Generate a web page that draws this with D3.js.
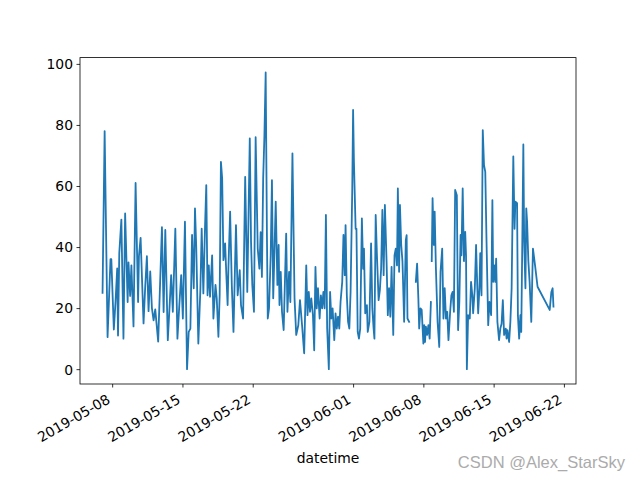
<!DOCTYPE html>
<html>
<head>
<meta charset="utf-8">
<script src="https://cdn.jsdelivr.net/npm/d3@7"></script>
<style>
  html, body { margin: 0; padding: 0; background: #fff; }
  svg { display: block; }
</style>
</head>
<body>
<svg id="chart" width="640" height="480"></svg>
<script>
// ---- data ----
const times = [
"2019-05-07 01","2019-05-07 06","2019-05-07 13","2019-05-07 20","2019-05-07 22",
"2019-05-08 04","2019-05-08 08","2019-05-08 12","2019-05-08 14","2019-05-08 17","2019-05-08 22",
"2019-05-09 03","2019-05-09 07","2019-05-09 13","2019-05-09 15","2019-05-09 19","2019-05-09 22",
"2019-05-10 03","2019-05-10 08","2019-05-10 14","2019-05-10 16","2019-05-10 20",
"2019-05-11 03","2019-05-11 07","2019-05-11 11","2019-05-11 15","2019-05-11 19","2019-05-11 23",
"2019-05-12 03","2019-05-12 07","2019-05-12 14","2019-05-12 23",
"2019-05-13 03","2019-05-13 07","2019-05-13 13","2019-05-13 17","2019-05-13 21",
"2019-05-14 01","2019-05-14 07","2019-05-14 12","2019-05-14 17","2019-05-14 21",
"2019-05-15 01","2019-05-15 06","2019-05-15 11","2019-05-15 15","2019-05-15 19","2019-05-15 23",
"2019-05-16 03","2019-05-16 06","2019-05-16 09","2019-05-16 14","2019-05-16 19","2019-05-16 22",
"2019-05-17 02","2019-05-17 06","2019-05-17 09","2019-05-17 12","2019-05-17 15","2019-05-17 18","2019-05-17 23",
"2019-05-18 02","2019-05-18 07","2019-05-18 10","2019-05-18 14","2019-05-18 17","2019-05-18 20","2019-05-18 23",
"2019-05-19 02","2019-05-19 06","2019-05-19 09","2019-05-19 12","2019-05-19 14","2019-05-19 18","2019-05-19 22",
"2019-05-20 02","2019-05-20 08","2019-05-20 12","2019-05-20 17","2019-05-20 20",
"2019-05-21 01","2019-05-21 06","2019-05-21 11","2019-05-21 14","2019-05-21 17","2019-05-21 20","2019-05-21 23",
"2019-05-22 03","2019-05-22 07","2019-05-22 12","2019-05-22 16","2019-05-22 19","2019-05-22 22",
"2019-05-23 01","2019-05-23 04","2019-05-23 07","2019-05-23 10","2019-05-23 12","2019-05-23 15","2019-05-23 19","2019-05-23 22",
"2019-05-24 01","2019-05-24 04","2019-05-24 07","2019-05-24 11","2019-05-24 14","2019-05-24 16","2019-05-24 19","2019-05-24 22",
"2019-05-25 02","2019-05-25 08","2019-05-25 11","2019-05-25 15","2019-05-25 18","2019-05-25 23",
"2019-05-26 04","2019-05-26 08","2019-05-26 13","2019-05-26 17","2019-05-26 22",
"2019-05-27 03","2019-05-27 08","2019-05-27 11","2019-05-27 14","2019-05-27 17","2019-05-27 20",
"2019-05-28 00","2019-05-28 03","2019-05-28 06","2019-05-28 09","2019-05-28 12","2019-05-28 16","2019-05-28 19","2019-05-28 22",
"2019-05-29 01","2019-05-29 04","2019-05-29 07","2019-05-29 10","2019-05-29 14","2019-05-29 17","2019-05-29 20","2019-05-29 23",
"2019-05-30 03","2019-05-30 06","2019-05-30 09","2019-05-30 12","2019-05-30 15","2019-05-30 18","2019-05-30 22",
"2019-05-31 01","2019-05-31 04","2019-05-31 06","2019-05-31 09","2019-05-31 12","2019-05-31 15","2019-05-31 18","2019-05-31 22",
"2019-06-01 00","2019-06-01 02","2019-06-01 06","2019-06-01 08","2019-06-01 11","2019-06-01 14","2019-06-01 17","2019-06-01 21",
"2019-06-02 00","2019-06-02 02","2019-06-02 05","2019-06-02 09","2019-06-02 11","2019-06-02 15","2019-06-02 19","2019-06-02 22",
"2019-06-03 01","2019-06-03 03","2019-06-03 06","2019-06-03 09","2019-06-03 13","2019-06-03 16","2019-06-03 19","2019-06-03 22",
"2019-06-04 01","2019-06-04 04","2019-06-04 08","2019-06-04 11","2019-06-04 14","2019-06-04 17","2019-06-04 20",
"2019-06-05 00","2019-06-05 03","2019-06-05 06","2019-06-05 09","2019-06-05 11","2019-06-05 14","2019-06-05 16","2019-06-05 19","2019-06-05 22","2019-06-05 23",
"2019-06-06 02","2019-06-06 06","2019-06-06 08","2019-06-06 10","2019-06-06 14","2019-06-06 15",
"2019-06-07 06","2019-06-07 09","2019-06-07 12","2019-06-07 14","2019-06-07 17","2019-06-07 20",
"2019-06-08 00","2019-06-08 02","2019-06-08 04","2019-06-08 06","2019-06-08 09","2019-06-08 12","2019-06-08 15","2019-06-08 18","2019-06-08 19","2019-06-08 20","2019-06-08 22",
"2019-06-09 01","2019-06-09 03","2019-06-09 06","2019-06-09 10","2019-06-09 14","2019-06-09 17","2019-06-09 21",
"2019-06-10 00","2019-06-10 03","2019-06-10 06","2019-06-10 09","2019-06-10 12","2019-06-10 16","2019-06-10 19","2019-06-10 22",
"2019-06-11 01","2019-06-11 04","2019-06-11 08","2019-06-11 11","2019-06-11 14","2019-06-11 17","2019-06-11 19","2019-06-11 22",
"2019-06-12 01","2019-06-12 04","2019-06-12 06","2019-06-12 08","2019-06-12 11","2019-06-12 15","2019-06-12 18","2019-06-12 21","2019-06-12 23",
"2019-06-13 03","2019-06-13 06","2019-06-13 09","2019-06-13 11","2019-06-13 14","2019-06-13 16","2019-06-13 19","2019-06-13 22",
"2019-06-14 01","2019-06-14 04","2019-06-14 07","2019-06-14 11","2019-06-14 14","2019-06-14 18","2019-06-14 21","2019-06-14 23",
"2019-06-15 02","2019-06-15 04","2019-06-15 06","2019-06-15 09","2019-06-15 13","2019-06-15 16","2019-06-15 19","2019-06-15 22",
"2019-06-16 01","2019-06-16 05","2019-06-16 07","2019-06-16 09","2019-06-16 13","2019-06-16 16","2019-06-16 19","2019-06-16 23",
"2019-06-17 02","2019-06-17 04","2019-06-17 08","2019-06-17 10","2019-06-17 13","2019-06-17 16","2019-06-17 18","2019-06-17 20","2019-06-17 23",
"2019-06-18 01","2019-06-18 04","2019-06-18 06","2019-06-18 08","2019-06-18 11","2019-06-18 14","2019-06-18 18","2019-06-18 22",
"2019-06-19 03","2019-06-19 09",
"2019-06-20 14","2019-06-20 18","2019-06-20 21","2019-06-20 23"
];
const values = [
25,78,10.5,36,36,
13,22,33,11,38,49,
10,51,22,35,24,34,
14,61,22,37,43,
15,27,37,19,32,20,
16,19.6,9,46.5,
18.7,45.6,9.5,19.9,30.8,
18.8,46,10,22,30.8,
16.6,48.3,0,12.2,13.3,44,
26.5,52.7,40,8.4,26.5,46,
24.8,46.6,60.3,24.2,34,23.7,37.3,
16.6,27.6,23.2,10.6,24.2,67.9,62.4,
35.7,41.2,30.8,21,33.5,51.6,27.6,
12.2,47.2,24.2,32.4,21,
16.6,63,25.3,50.5,75.6,41.8,27.6,
18.8,76,39.5,32.9,44.9,30.2,
62.4,76.6,97.2,43.8,16.6,19.9,37.3,61.9,
23.2,38.4,54.9,27.6,40.7,21,31.9,18.8,
12.8,44.4,18.8,31.9,22,70.7,
23.2,11.2,14.4,22.6,14.4,
5.2,34,17.7,25.3,18.8,23.2,
17.7,6.2,33.5,19.9,26.5,16.6,24.2,19.9,
25.3,19.9,50.5,13.3,0,25.3,16.6,19.9,
9.5,18.3,13.3,17.2,13.3,22,28.6,
44,30.8,47.2,24.2,15.5,13.3,25.3,59.2,
84.9,67.9,46,46,12.2,10,13.3,49.4,
32.9,39.5,18.3,21,12.2,15.5,41.2,19.9,
13.3,10,50.5,37.3,22.6,25.9,32.9,52.2,
30.8,53.8,35.4,17.7,26.5,17.2,33.5,
11.2,37.3,39.5,34,59.2,31.9,53.8,40.7,35.4,30.8,
15.5,42.3,43.9,16.6,15.5,null,
28.6,34.6,23.2,13.3,19.9,19.4,
8.4,14.4,8.9,13.9,11.2,14.4,10,22,null,35.4,56,
40.7,51.6,32.9,15.5,7.3,31.9,39.5,
16.6,26.5,16.6,18.8,9.5,18.8,24.2,25.3,
18.8,58.7,57,12.8,22,44,37.3,59.2,
35.4,45,37.3,0,17.7,16.6,28.6,24.2,18.3,
26.5,40.7,26.5,18.3,26.5,38,24.2,78.3,
66.8,64.6,41.8,14.4,22,17.7,55.4,28.6,
34,28.6,36.2,15.5,9.5,13.3,14.9,22.6,
11.2,13.3,10,12.8,8.9,15.5,26.5,69.7,
46,54.9,54.4,17.7,10,17.7,12.2,35.4,73.6,
41.8,26.5,52.7,48.3,35.4,28.6,15.5,39.5,
34,27,
19.4,25.3,26.5,20.5
];
const xTickLabels = ["2019-05-08","2019-05-15","2019-05-22","2019-06-01","2019-06-08","2019-06-15","2019-06-22"];
const yTickValues = [0, 20, 40, 60, 80, 100];
const xLabel = "datetime";
const watermark = "CSDN @Alex_StarSky";

// ---- layout ----
const W = 640, H = 480;
const m = { left: 80, right: 576, top: 57.6, bottom: 384 };
const FONT = "'DejaVu Sans', sans-serif";
const FS = 13.9;

const parseT = d3.timeParse("%Y-%m-%d %H");
const parseD = d3.timeParse("%Y-%m-%d");
const data = times.map((t, i) => ({ t: parseT(t), v: values[i] }));
const defined = data.filter(d => d.v != null);

const tExt = d3.extent(defined, d => d.t);
const tPad = (tExt[1] - tExt[0]) * 0.05;
const x = d3.scaleTime()
  .domain([new Date(+tExt[0] - tPad), new Date(+tExt[1] + tPad)])
  .range([m.left, m.right]);

const vExt = d3.extent(defined, d => d.v);
const vPad = (vExt[1] - vExt[0]) * 0.05;
const y = d3.scaleLinear()
  .domain([vExt[0] - vPad, vExt[1] + vPad])
  .range([m.bottom, m.top]);

const svg = d3.select("#chart");
svg.append("rect").attr("width", W).attr("height", H).attr("fill", "#fff");

// line
const line = d3.line()
  .defined(d => d.v != null)
  .x(d => x(d.t))
  .y(d => y(d.v));

svg.append("path")
  .datum(data)
  .attr("fill", "none")
  .attr("stroke", "#1f77b4")
  .attr("stroke-width", 1.8)
  .attr("stroke-linejoin", "round")
  .attr("stroke-linecap", "square")
  .attr("d", line);

// x axis
const xAxis = d3.axisBottom(x)
  .tickValues(xTickLabels.map(parseD))
  .tickFormat(d3.timeFormat("%Y-%m-%d"))
  .tickSize(3.5)
  .tickSizeOuter(0);
const gx = svg.append("g").attr("transform", `translate(0,${m.bottom})`).call(xAxis);
gx.select(".domain").remove();
gx.selectAll(".tick line").attr("stroke", "#000").attr("stroke-width", 0.8);
gx.selectAll(".tick text")
  .attr("x", 0).attr("y", 0).attr("dy", "0.35em")
  .attr("text-anchor", "end")
  .attr("transform", "translate(-4,14) rotate(-30)")
  .attr("fill", "#000")
  .style("font-family", FONT).style("font-size", FS + "px");

// y axis
const yAxis = d3.axisLeft(y)
  .tickValues(yTickValues)
  .tickFormat(d3.format("d"))
  .tickSize(3.5)
  .tickPadding(3.5)
  .tickSizeOuter(0);
const gy = svg.append("g").attr("transform", `translate(${m.left},0)`).call(yAxis);
gy.select(".domain").remove();
gy.selectAll(".tick line").attr("stroke", "#000").attr("stroke-width", 0.8);
gy.selectAll(".tick text")
  .attr("fill", "#000")
  .attr("dy", "0.35em")
  .style("font-family", FONT).style("font-size", FS + "px");

// frame
svg.append("rect")
  .attr("x", m.left).attr("y", m.top)
  .attr("width", m.right - m.left).attr("height", m.bottom - m.top)
  .attr("fill", "none").attr("stroke", "#000").attr("stroke-width", 0.8);

// x label
svg.append("text")
  .attr("x", (m.left + m.right) / 2).attr("y", 463)
  .attr("text-anchor", "middle")
  .style("font-family", FONT).style("font-size", FS + "px")
  .attr("fill", "#000")
  .text(xLabel);

// watermark
svg.append("text")
  .attr("x", 625).attr("y", 468)
  .attr("text-anchor", "end")
  .style("font-family", "'Liberation Sans', Arial, sans-serif")
  .style("font-size", "16.5px")
  .attr("fill", "#ababab")
  .text(watermark);
</script>
</body>
</html>
